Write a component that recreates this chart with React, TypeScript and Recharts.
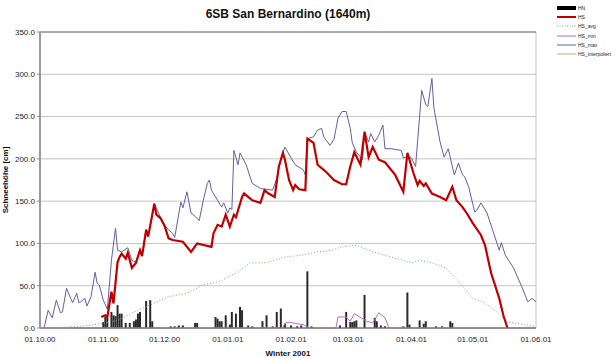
import { Bar, CartesianGrid, ComposedChart, Line, ReferenceLine, XAxis, YAxis } from "recharts";

// days counted from 01.10.00
const monthTicks = [0, 31, 61, 92, 123, 151, 182, 212, 243];
const monthLabels = ["01.10.00", "01.11.00", "01.12.00", "01.01.01", "01.02.01", "01.03.01", "01.04.01", "01.05.01", "01.06.01"];
const heightTicks = [0, 50, 100, 150, 200, 250, 300, 350];

const hnDays = [31, 32, 33, 35, 36, 37, 38, 39, 40, 42, 44, 46, 47, 48, 49, 52, 54, 55, 64, 66, 68, 70, 76, 77, 86, 87, 88, 89, 91, 93, 94, 96, 98, 99, 102, 104, 109, 111, 114, 116, 118, 120, 123, 126, 128, 131, 133, 147, 150, 152, 153, 154, 155, 159, 164, 165, 167, 169, 178, 180, 181, 186, 188, 189, 194, 197, 201, 202];
const hnValues = [7, 13, 12, 19, 15, 14, 27, 17, 17, 6, 6, 8, 10, 17, 19, 32, 33, 8, 2, 2, 3, 3, 6, 6, 13, 11, 8, 8, 15, 4, 19, 17, 25, 21, 3, 2, 8, 15, 2, 19, 23, 5, 3, 2, 3, 67, 2, 3, 19, 7, 7, 8, 9, 39, 12, 8, 3, 2, 2, 42, 4, 9, 5, 8, 2, 2, 8, 6];

const hsDays = [30, 32, 33, 35, 36, 38, 39, 40, 42, 43, 45, 47, 49, 50, 52, 53, 56, 57, 59, 61, 63, 65, 70, 74, 77, 84, 85, 87, 89, 91, 93, 95, 96, 99, 100, 102, 104, 108, 110, 112, 115, 117, 119, 120, 122, 124, 125, 127, 130, 131, 134, 136, 140, 144, 148, 150, 152, 154, 157, 159, 161, 163, 166, 169, 174, 178, 180, 183, 185, 186, 188, 189, 192, 196, 199, 202, 204, 207, 209, 212, 216, 218, 221, 225, 227, 229];
const hsValues = [13, 15, 13, 43, 29, 78, 84, 88, 82, 89, 71, 77, 92, 85, 116, 108, 147, 134, 130, 121, 106, 104, 102, 90, 100, 96, 112, 122, 120, 134, 120, 134, 131, 155, 159, 155, 151, 148, 163, 159, 155, 191, 207, 199, 175, 163, 169, 164, 163, 224, 219, 193, 185, 175, 170, 170, 191, 208, 193, 232, 202, 214, 199, 196, 181, 161, 207, 183, 169, 174, 168, 171, 159, 155, 151, 167, 151, 143, 136, 124, 110, 98, 65, 35, 15, 0];

const hsMaxDays = [2, 4, 6, 8, 10, 11, 13, 15, 16, 18, 19, 20, 22, 23, 25, 27, 28, 29, 31, 33, 35, 37, 38, 40, 43, 45, 47, 49, 50, 52, 53, 56, 59, 61, 63, 65, 66, 69, 70, 72, 74, 76, 78, 80, 82, 83, 84, 87, 89, 90, 92, 93, 94, 95, 97, 98, 101, 104, 108, 114, 116, 118, 120, 123, 125, 129, 130, 131, 134, 136, 138, 139, 142, 144, 146, 148, 150, 152, 153, 155, 158, 159, 161, 162, 164, 166, 168, 169, 172, 177, 178, 180, 182, 184, 187, 189, 190, 192, 193, 196, 198, 200, 203, 205, 207, 208, 210, 213, 214, 216, 219, 222, 225, 226, 228, 232, 236, 239, 241, 243];
const hsMaxValues = [0, 21, 12, 33, 18, 19, 47, 35, 30, 41, 30, 31, 35, 26, 37, 66, 53, 51, 33, 22, 80, 118, 92, 90, 95, 80, 78, 93, 86, 117, 109, 147, 131, 122, 116, 112, 107, 149, 142, 161, 136, 132, 127, 151, 171, 175, 163, 151, 143, 148, 136, 142, 140, 210, 193, 207, 193, 171, 165, 163, 177, 200, 214, 201, 193, 187, 181, 224, 226, 234, 236, 226, 216, 223, 248, 256, 256, 236, 219, 208, 199, 232, 220, 230, 220, 228, 240, 212, 212, 210, 201, 203, 201, 191, 281, 264, 262, 295, 260, 220, 202, 212, 181, 195, 181, 179, 167, 137, 139, 148, 136, 114, 92, 101, 86, 71, 49, 31, 35, 31];

const hsAvgDays = [5, 20, 30, 38, 48, 63, 72, 80, 88, 96, 103, 111, 120, 128, 136, 143, 148, 155, 163, 172, 182, 186, 192, 199, 207, 212, 217, 224, 229, 237, 243];
const hsAvgValues = [0, 2, 5, 9, 21, 37, 41, 51, 55, 65, 77, 77, 84, 86, 90, 92, 96, 98, 90, 84, 77, 80, 77, 71, 49, 35, 31, 19, 7, 4, 2];

const hsMinDays = [0, 119, 120, 122, 126, 129, 132, 145, 146, 150, 152, 154, 160, 163, 166, 169, 171, 243];
const hsMinValues = [0, 0, 6, 7, 5, 4, 0, 0, 13, 13, 8, 17, 8, 6, 18, 12, 0, 0];

const hsInterpDays = [0, 14];
const hsInterpValues = [0, 0];

const lines = [
  { key: "HS_max", color: "#60609e", width: 1, dash: undefined },
  { key: "HS_avg", color: "#7fa27f", width: 1, dash: "1 2" },
  { key: "HS_min", color: "#b46ec4", width: 1, dash: undefined },
  { key: "HS_interpoliert", color: "#c9a98a", width: 1, dash: undefined },
  { key: "HS", color: "#c00000", width: 2.2, dash: undefined },
];

const legendItems = [
  { name: "HN", color: "#000000", width: 4, dash: undefined },
  { name: "HS", color: "#c00000", width: 2, dash: undefined },
  { name: "HS_avg", color: "#7fa27f", width: 1, dash: "1 1.5" },
  { name: "HS_min", color: "#b46ec4", width: 1, dash: undefined },
  { name: "HS_max", color: "#60609e", width: 1, dash: undefined },
  { name: "HS_interpoliert", color: "#c9a98a", width: 1, dash: undefined },
];

function buildRows() {
  const rows = new Map<number, Record<string, number>>();
  const put = (days: number[], values: number[], key: string) =>
    days.forEach((d, i) => {
      const row = rows.get(d) ?? { day: d };
      row[key] = values[i];
      rows.set(d, row);
    });
  put(hnDays, hnValues, "HN");
  put(hsDays, hsValues, "HS");
  put(hsMaxDays, hsMaxValues, "HS_max");
  put(hsAvgDays, hsAvgValues, "HS_avg");
  put(hsMinDays, hsMinValues, "HS_min");
  put(hsInterpDays, hsInterpValues, "HS_interpoliert");
  return [...rows.values()].sort((a, b) => a.day - b.day);
}

const tickStyle = { fontSize: 8, fill: "#222", fontFamily: "Liberation Sans, Arial, sans-serif" };
const chartMargin = { top: 32, right: 80, bottom: 0, left: 0 };
const layer = { position: "absolute" as const, left: 0, top: 0 };

function SnowLegend() {
  return (
    <div style={{ position: "absolute", left: 557, top: 3, fontSize: 5, color: "#222" }}>
      {legendItems.map((item) => (
        <div key={item.name} style={{ display: "flex", alignItems: "center", height: 9.3 }}>
          <svg width={19} height={6} style={{ marginRight: 2 }}>
            <line x1={0} y1={3} x2={19} y2={3} stroke={item.color} strokeWidth={item.width} strokeDasharray={item.dash} />
          </svg>
          <span>{item.name}</span>
        </div>
      ))}
    </div>
  );
}

// grid drawn in its own chart underneath (needs a series so the axes get a domain)
function GridLayer({ data }: { data: Record<string, number>[] }) {
  return (
    <div style={layer}>
      <ComposedChart width={616} height={358} data={data} margin={chartMargin}>
        <CartesianGrid stroke="#c4c4c4" horizontal={false} />
        {heightTicks.map((v) => (
          <ReferenceLine key={v} y={v} stroke={v === 350 ? "#555" : "#c4c4c4"} />
        ))}
        <XAxis dataKey="day" type="number" domain={[0, 243]} ticks={monthTicks} interval={0} height={30} tick={false} />
        <YAxis domain={[0, 350]} width={40} tick={false} />
        <Line dataKey="HS_avg" stroke="none" dot={false} activeDot={false} connectNulls isAnimationActive={false} />
      </ComposedChart>
    </div>
  );
}

export default function App() {
  const data = buildRows();
  return (
    <div style={{ position: "absolute", left: 0, top: 0, width: 616, height: 358, background: "#fff", fontFamily: "Liberation Sans, Arial, sans-serif" }}>
      <GridLayer data={data} />
      <div style={{ position: "absolute", left: 40, width: 496, top: 7, textAlign: "center", fontWeight: "bold", fontSize: 12, color: "#111" }}>
        6SB San Bernardino (1640m)
      </div>
      <div style={layer}>
        <ComposedChart width={616} height={358} data={data} margin={chartMargin}>
          <XAxis
            dataKey="day"
            type="number"
            domain={[0, 243]}
            ticks={monthTicks}
            tickFormatter={(v) => monthLabels[monthTicks.indexOf(Number(v))] ?? ""}
            tick={tickStyle}
            tickLine={false}
            axisLine={{ stroke: "#888" }}
            height={30}
            interval={0}
            label={{ value: "Winter 2001", position: "insideBottom", offset: 2, style: { fontSize: 8, fontWeight: "bold", fill: "#111" } }}
          />
          <YAxis
            type="number"
            domain={[0, 350]}
            ticks={heightTicks}
            tickFormatter={(v) => Number(v).toFixed(1)}
            tick={tickStyle}
            tickSize={3}
            tickLine={{ stroke: "#888" }}
            axisLine={{ stroke: "#999", strokeWidth: 2 }}
            width={40}
            interval={0}
            label={{ value: "Schneehöhe [cm]", angle: -90, position: "insideLeft", offset: 5, style: { textAnchor: "middle", fontSize: 8, fontWeight: "bold", fill: "#111" } }}
          />
          <Bar dataKey="HN" fill="#2a2a2a" barSize={2} isAnimationActive={false} />
          {lines.map((s) => (
            <Line
              key={s.key}
              dataKey={s.key}
              type="linear"
              stroke={s.color}
              strokeWidth={s.width}
              strokeDasharray={s.dash}
              dot={false}
              activeDot={false}
              connectNulls
              isAnimationActive={false}
            />
          ))}
        </ComposedChart>
      </div>
      <SnowLegend />
    </div>
  );
}
